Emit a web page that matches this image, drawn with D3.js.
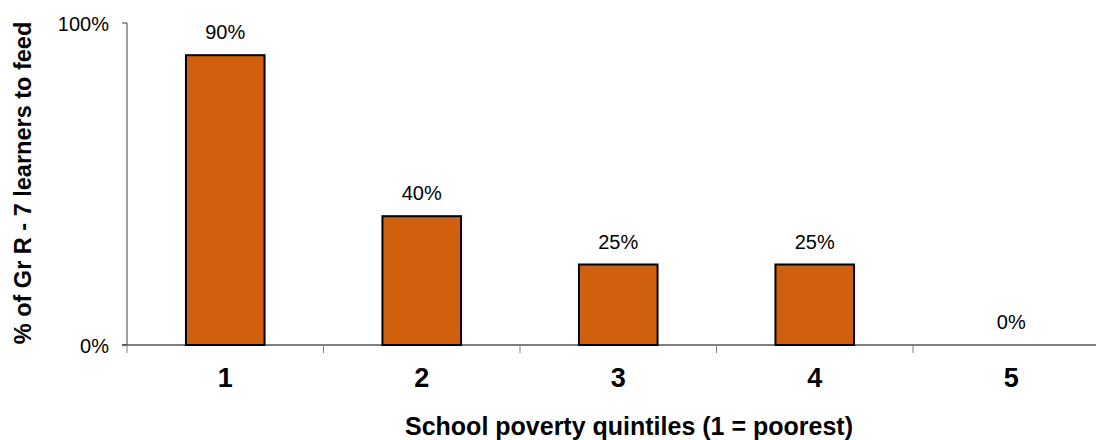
<!DOCTYPE html>
<html><head><meta charset="utf-8">
<script src="https://cdn.jsdelivr.net/npm/d3@7"></script>
<style>body{margin:0;background:#fff}svg{display:block}text{font-family:"Liberation Sans",Arial,sans-serif}</style>
</head><body>
<svg id="c" width="1096" height="440"></svg>
<script>
const categories = ["1","2","3","4","5"];
const values = [90, 40, 25, 25, 0];
const yTicks = [0, 100];
const xTitle = "School poverty quintiles (1 = poorest)";
const yTitle = "% of Gr R - 7 learners to feed";

const svg = d3.select("#c");
const x0 = 127, bw = 196.5, yTop = 23, yBot = 345;
const x = d3.scaleBand().domain(categories).range([x0, x0 + bw * categories.length]).paddingInner(0.6).paddingOuter(0.3);
const y = d3.scaleLinear().domain([0, 100]).range([yBot, yTop]);

// x axis line
svg.append("line").attr("x1", 122).attr("x2", 1096).attr("y1", yBot).attr("y2", yBot)
  .attr("stroke", "#808080").attr("stroke-width", 2);
// category ticks
categories.forEach((c, i) => {
  const tx = x0 + bw * i;
  svg.append("line").attr("x1", tx).attr("x2", tx).attr("y1", yBot).attr("y2", yBot + 8)
    .attr("stroke", "#808080").attr("stroke-width", 1);
});
// y axis
svg.append("line").attr("x1", x0).attr("x2", x0).attr("y1", y(100)).attr("y2", yBot)
  .attr("stroke", "#404040").attr("stroke-width", 1);
yTicks.forEach(t => {
  svg.append("line").attr("x1", 122).attr("x2", x0).attr("y1", y(t)).attr("y2", y(t))
    .attr("stroke", "#404040").attr("stroke-width", 1);
  svg.append("text").attr("x", 109).attr("y", y(t) + 7.5).attr("text-anchor", "end")
    .attr("font-size", 20).attr("fill", "#000").text(t + "%");
});

// bars
svg.selectAll("rect.bar").data(values).enter().append("rect")
  .attr("class", "bar")
  .attr("x", (d, i) => x(categories[i]))
  .attr("width", x.bandwidth())
  .attr("y", d => y(d))
  .attr("height", d => yBot - y(d))
  .attr("fill", "#D0600E").attr("stroke", "#000").attr("stroke-width", 2)
  .attr("display", d => d > 0 ? null : "none");

// value labels
svg.selectAll("text.val").data(values).enter().append("text")
  .attr("x", (d, i) => x(categories[i]) + x.bandwidth() / 2)
  .attr("y", d => y(d) - 16)
  .attr("text-anchor", "middle").attr("font-size", 20).attr("fill", "#000")
  .text(d => d + "%");

// category labels
svg.selectAll("text.cat").data(categories).enter().append("text")
  .attr("x", d => x(d) + x.bandwidth() / 2)
  .attr("y", 387)
  .attr("text-anchor", "middle").attr("font-size", 27).attr("font-weight", "bold").attr("fill", "#000")
  .text(d => d);

svg.append("text").attr("x", 629).attr("y", 434.5).attr("text-anchor", "middle")
  .attr("font-size", 25).attr("font-weight", "bold").text(xTitle);

svg.append("text").attr("transform", "translate(31,183) rotate(-90)").attr("text-anchor", "middle")
  .attr("font-size", 23.5).attr("font-weight", "bold").text(yTitle);
</script>
</body></html>
